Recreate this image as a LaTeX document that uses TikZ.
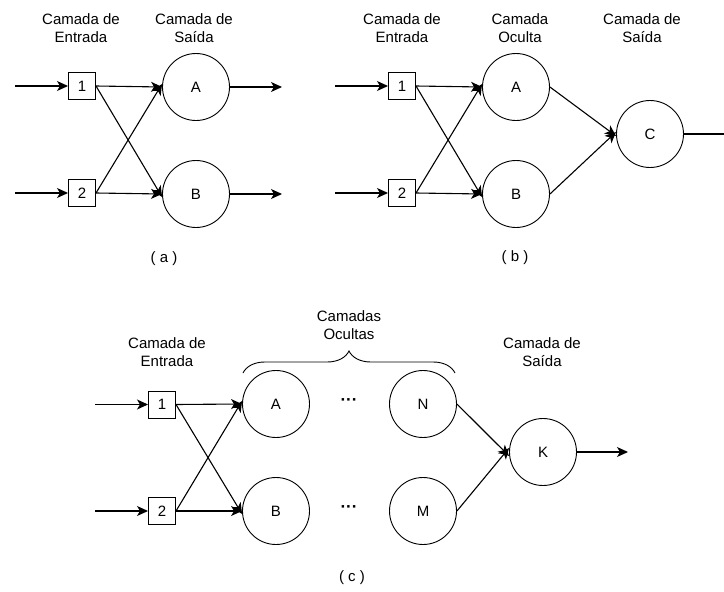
\documentclass[tikz,border=0pt]{standalone}
\usepackage{fontspec}
\setmainfont{Liberation Sans}
\usetikzlibrary{arrows.meta,decorations.pathreplacing}
\begin{document}
\begin{tikzpicture}[x=1pt,y=-1pt,
  every node/.style={font=\fontsize{15}{18}\selectfont},
  inbox/.style={draw,line width=1pt,minimum size=27pt,inner sep=0pt},
  neuron/.style={draw,circle,line width=0.9pt,minimum size=67pt,inner sep=0pt},
  head/.style={align=center,inner sep=0pt},
  arr/.style={line width=1.1pt,-{Stealth[length=11pt,width=10pt,inset=3pt]}},
  plain/.style={line width=1.1pt}]
\useasboundingbox (0,0) rectangle (724,592);
% ---------- (a)
\node[head] (ha1) at (81,28) {Camada de\\Entrada};
\node[head] (ha2) at (194,28) {Camada de\\Saída};
\node[inbox] (a1) at (82,86) {1};
\node[inbox] (a2) at (82,193) {2};
\node[neuron] (aA) at (196,87) {A};
\node[neuron] (aB) at (196,194) {B};
\coordinate (ai1) at (15,86);
\coordinate (ai2) at (15,193);
\coordinate (ao1) at (282,87);
\coordinate (ao2) at (282,194);
\draw[arr] (ai1) -- (a1);
\draw[arr] (ai2) -- (a2);
\draw[arr] (a1.east) -- (aA.west);
\draw[arr] (a1.east) -- ([yshift=-3pt]aB.west);
\draw[arr] (a2.east) -- ([yshift=3pt]aA.west);
\draw[arr] (a2.east) -- (aB.west);
\draw[arr] (aA) -- (ao1);
\draw[arr] (aB) -- (ao2);
\node (la) at (164,259) {( a )};
% ---------- (b)
\node[head] (hb1) at (402,28) {Camada de\\Entrada};
\node[head] (hb2) at (520,28) {Camada\\Oculta};
\node[head] (hb3) at (642,28) {Camada de\\Saída};
\node[inbox] (b1) at (402,86) {1};
\node[inbox] (b2) at (402,193) {2};
\node[neuron] (bA) at (516,87) {A};
\node[neuron] (bB) at (516,194) {B};
\node[neuron] (bC) at (650,134) {C};
\coordinate (bi1) at (335,86);
\coordinate (bi2) at (335,193);
\coordinate (bo) at (724,134);
\draw[arr] (bi1) -- (b1);
\draw[arr] (bi2) -- (b2);
\draw[arr] (b1.east) -- (bA.west);
\draw[arr] (b1.east) -- ([yshift=-3pt]bB.west);
\draw[arr] (b2.east) -- ([yshift=3pt]bA.west);
\draw[arr] (b2.east) -- (bB.west);
\draw[arr] (bA.east) -- ([yshift=-2pt]bC.west);
\draw[arr] (bB.east) -- ([yshift=2pt]bC.west);
\draw[plain] (bC) -- (bo);
\node (lb) at (515,258) {( b )};
% ---------- (c)
\node[head] (hc1) at (167,352) {Camada de\\Entrada};
\node[head] (hc2) at (349,325) {Camadas\\Ocultas};
\node[head] (hc3) at (542,352) {Camada de\\Saída};
\node[inbox] (c1) at (162,404.5) {1};
\node[inbox] (c2) at (162,511) {2};
\node[neuron] (cA) at (276,404) {A};
\node[neuron] (cB) at (276,511) {B};
\node[neuron] (cN) at (423,404) {N};
\node[neuron] (cM) at (423,511) {M};
\node[neuron] (cK) at (543,452) {K};
\node[font=\fontsize{17}{18}\selectfont\bfseries] (d1) at (349,402) {···};
\node[font=\fontsize{17}{18}\selectfont\bfseries] (d2) at (349,509) {···};
\coordinate (ci1) at (95,404.5);
\coordinate (ci2) at (95,511);
\coordinate (co) at (628,452);
\coordinate (brL) at (243,373);
\coordinate (brR) at (455,373);
\draw[line width=0.9pt,decorate,decoration={brace,amplitude=22pt}] (brL) -- (brR);
\draw[arr] (ci1) -- (c1);
\draw[arr] (ci2) -- (c2);
\draw[arr] (c1.east) -- (cA.west);
\draw[arr] (c1.east) -- ([yshift=-3pt]cB.west);
\draw[arr] (c2.east) -- ([yshift=3pt]cA.west);
\draw[arr] (c2.east) -- (cB.west);
\draw[arr] (cN.east) -- ([yshift=-4pt]cK.west);
\draw[arr] (cM.east) -- ([yshift=4pt]cK.west);
\draw[arr] (cK) -- (co);
\node (lc) at (352,578) {( c )};
\end{tikzpicture}
\end{document}
